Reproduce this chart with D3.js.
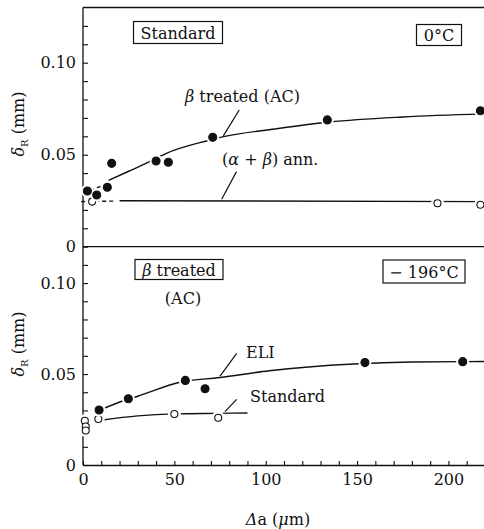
<!DOCTYPE html>
<html>
<head>
<meta charset="utf-8">
<script src="https://cdn.jsdelivr.net/npm/d3@7"></script>
<style>
  body { margin: 0; background: #fff; }
  svg text { font-family: "DejaVu Serif", "Liberation Serif", serif; fill: #111; }
</style>
</head>
<body>
<svg id="chart" width="484" height="529"></svg>
<script>
// axis ticks
var xTicks = [0, 10, 20, 30, 40, 50, 60, 70, 80, 90, 100, 110, 120, 130, 140, 150, 160, 170, 180, 190, 200, 210, 220]
var xTickLabels = [0, 50, 100, 150, 200]
var yTicksTop = [0, 0.01, 0.02, 0.03, 0.04, 0.05, 0.06, 0.07, 0.08, 0.09, 0.10, 0.11, 0.12]
var yTicksBottom = [0, 0.01, 0.02, 0.03, 0.04, 0.05, 0.06, 0.07, 0.08, 0.09, 0.10, 0.11]
var yTickLabels = [0, 0.05, 0.10]

// 0 C panel  [da (um), deltaR (mm)]
var betaTreated0C = [[2.4, 0.0303], [7.5, 0.0281], [13.3, 0.0323], [15.7, 0.0453], [40, 0.0466],
    [46.7, 0.0459], [71, 0.0595], [133.7, 0.0689], [217.5, 0.0739]]
var betaTreated0CCurve = [[14, 0.036], [25, 0.041], [35, 0.0455], [45, 0.0505], [68, 0.0576],
    [77, 0.0598], [105, 0.064], [135, 0.0678], [175, 0.0705], [220, 0.0722]]
var betaTreated0CDash = [[4, 0.0305], [12.5, 0.034]]
var alphaBeta0C = [[5, 0.0245], [194, 0.0236], [217.5, 0.0228]]
var alphaBeta0CCurve = [[20, 0.025], [220, 0.0245]]
var alphaBeta0CDash = [[-1, 0.0245], [18, 0.0248]]

// -196 C panel
var eli196 = [[8.8, 0.0302], [24.8, 0.0364], [56, 0.0465], [66.8, 0.0419], [154.3, 0.0563], [207.8, 0.0568]]
var eli196Curve = [[10, 0.0305], [22, 0.0353], [30, 0.0378], [53, 0.0455], [75, 0.0481],
    [102, 0.0518], [148, 0.0555], [180, 0.0566], [220, 0.0569]]
var std196 = [[1, 0.0243], [1.5, 0.0212], [1.5, 0.019], [8.4, 0.0253], [50, 0.028], [74, 0.026]]
var std196Curve = [[10, 0.0246], [30, 0.027], [50, 0.0281], [75, 0.0284], [90, 0.0286]]

var svg = d3.select('#chart')

var x = d3.scaleLinear().domain([0, 220]).range([83, 485])
var yTop = d3.scaleLinear().domain([0, 0.13]).range([246.7, 7.5])
var yBot = d3.scaleLinear().domain([0, 0.12]).range([465, 246.7])

function fmtY(d) {
    var hit = yTickLabels.find(function(v) { return Math.abs(v - d) < 1e-6 })
    if (hit === undefined) return ''
    return hit === 0 ? '0' : hit.toFixed(2)
}

// frame lines
svg.append('line').attr('x1', x(0)).attr('x2', 484).attr('y1', yTop(0.13)).attr('y2', yTop(0.13))
    .attr('stroke', '#111').attr('stroke-width', 1.3)
svg.append('line').attr('x1', x(0)).attr('x2', 484).attr('y1', yTop(0)).attr('y2', yTop(0))
    .attr('stroke', '#111').attr('stroke-width', 1.3)

// y axes
function yAxis(scale, ticks, top) {
    var g = svg.append('g').attr('transform', 'translate(' + x(0) + ',0)')
        .call(d3.axisLeft(scale).tickValues(ticks).tickSizeInner(-5).tickSizeOuter(0)
            .tickPadding(7).tickFormat(fmtY))
    g.select('.domain').attr('d', 'M0,' + top + 'V' + scale(0)).attr('stroke', '#111').attr('stroke-width', 1.3)
    g.selectAll('.tick line').attr('stroke', '#111').attr('stroke-width', 1.1)
    g.selectAll('text').style('font-size', '16px').attr('fill', '#111')
}
yAxis(yTop, yTicksTop, yTop(0.13))
yAxis(yBot, yTicksBottom, yBot(0.12))

// x axis
var xg = svg.append('g').attr('transform', 'translate(0,' + yBot(0) + ')')
    .call(d3.axisBottom(x).tickValues(xTicks).tickSizeInner(-4).tickSizeOuter(0).tickPadding(9)
        .tickFormat(function(d) { return xTickLabels.indexOf(d) >= 0 ? d : '' }))
xg.select('.domain').attr('stroke', '#111').attr('stroke-width', 1.3)
xg.selectAll('.tick line').attr('stroke', '#111').attr('stroke-width', 1.1)
xg.selectAll('text').style('font-size', '16px').attr('fill', '#111')

// y labels
function yLabel(cy) {
    var t = svg.append('text').attr('transform', 'translate(24,' + cy + ') rotate(-90)')
        .attr('text-anchor', 'middle').style('font-size', '16px')
    t.append('tspan').style('font-style', 'italic').text('δ')
    t.append('tspan').attr('dy', 4).style('font-size', '10px').text('R')
    t.append('tspan').attr('dy', -4).text('  (mm)')
}
yLabel(124)
yLabel(344)

// x label
var xl = svg.append('text').attr('x', 278).attr('y', 525).attr('text-anchor', 'middle').style('font-size', '16px')
xl.append('tspan').style('font-style', 'italic').text('Δ')
xl.append('tspan').text('a  (')
xl.append('tspan').style('font-style', 'italic').text('μ')
xl.append('tspan').text('m)')

// curves
var line = function(ys) {
    return d3.line().x(function(d) { return x(d[0]) }).y(function(d) { return ys(d[1]) }).curve(d3.curveMonotoneX)
}
function drawCurve(data, ys, dash) {
    svg.append('path').datum(data).attr('d', line(ys)).attr('fill', 'none')
        .attr('stroke', '#111').attr('stroke-width', 1.4)
        .attr('stroke-dasharray', dash ? '4,3' : null)
}
drawCurve(betaTreated0CCurve, yTop)
drawCurve(betaTreated0CDash, yTop, true)
drawCurve(alphaBeta0CCurve, yTop)
drawCurve(alphaBeta0CDash, yTop, true)
drawCurve(eli196Curve, yBot)
drawCurve(std196Curve, yBot)

// markers with white halo to break lines
function drawPoints(data, ys, filled) {
    var g = svg.append('g')
    g.selectAll('circle.halo').data(data).join('circle').attr('class', 'halo')
        .attr('cx', function(d) { return x(d[0]) }).attr('cy', function(d) { return ys(d[1]) })
        .attr('r', 6.5).attr('fill', '#fff')
    g.selectAll('circle.pt').data(data).join('circle').attr('class', 'pt')
        .attr('cx', function(d) { return x(d[0]) }).attr('cy', function(d) { return ys(d[1]) })
        .attr('r', filled ? 4 : 3.5)
        .attr('fill', filled ? '#111' : '#fff').attr('stroke', '#111').attr('stroke-width', 1.1)
}
drawPoints(alphaBeta0C, yTop, false)
drawPoints(betaTreated0C, yTop, true)
drawPoints(std196, yBot, false)
drawPoints(eli196, yBot, true)

// leader lines
function leader(a, b, ys) {
    svg.append('line').attr('x1', x(a[0])).attr('y1', ys(a[1])).attr('x2', x(b[0])).attr('y2', ys(b[1]))
        .attr('stroke', '#111').attr('stroke-width', 1.2)
}
leader([85.5, 0.0743], [76.8, 0.0602], yTop)
leader([84, 0.0408], [75.9, 0.0258], yTop)
leader([84.1, 0.0614], [75, 0.0489], yBot)
leader([84.1, 0.0361], [77.7, 0.0293], yBot)

// annotation texts
function label(tx, ty, parts, anchor) {
    var t = svg.append('text').attr('x', tx).attr('y', ty).attr('text-anchor', anchor || 'start').style('font-size', '16px')
    parts.forEach(function(p) {
        t.append('tspan').style('font-style', p[1] ? 'italic' : 'normal').text(p[0])
    })
    return t
}
label(185, 102, [['β', true], [' treated (AC)']])
label(222, 165, [['(', false], ['α', true], [' + '], ['β', true], [') ann.']])
label(246, 358, [['ELI']])
label(250, 402, [['Standard']])
label(183, 304, [['(AC)']], 'middle')

// boxed labels
function boxed(cx, cy, w, h, parts) {
    svg.append('rect').attr('x', cx - w / 2).attr('y', cy - h / 2).attr('width', w).attr('height', h)
        .attr('fill', '#fff').attr('stroke', '#111').attr('stroke-width', 1.2)
    label(cx, cy + 6, parts, 'middle')
}
boxed(178, 32.5, 89, 22, [['Standard']])
boxed(439, 35, 45, 21, [['0°C']])
boxed(179, 269.5, 88, 20, [['β', true], [' treated']])
boxed(424, 271.5, 82, 23, [['− 196°C']])
</script>
</body>
</html>
